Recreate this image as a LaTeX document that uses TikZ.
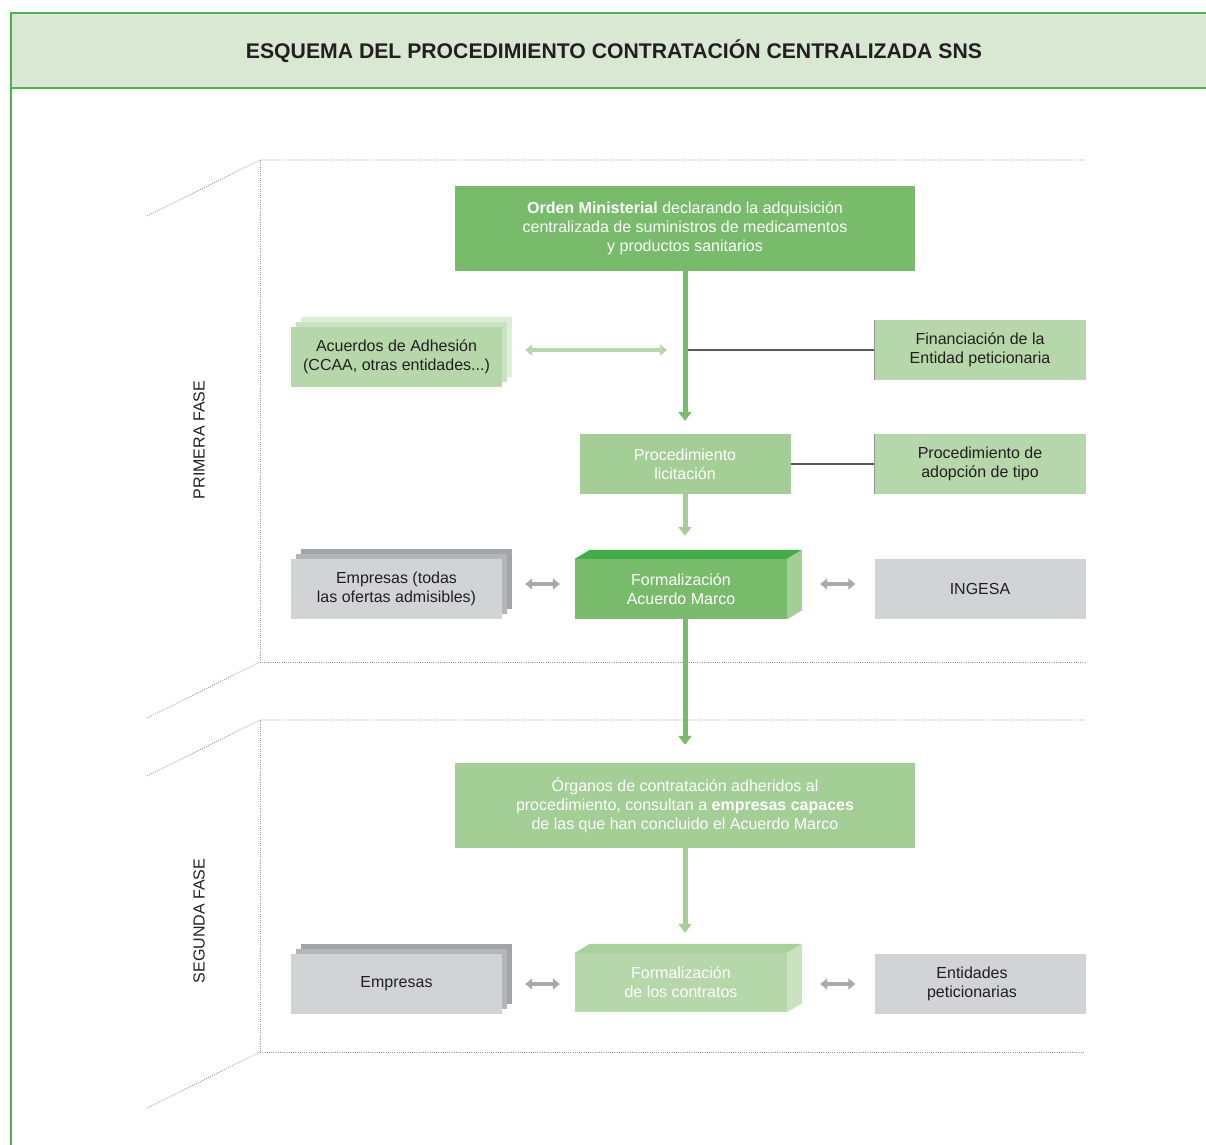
\documentclass[tikz,border=0pt]{standalone}
\usepackage{fontspec}
\setmainfont{Liberation Sans}
\usetikzlibrary{positioning,arrows.meta}

\definecolor{titlebg}{HTML}{D8E8D2}
\definecolor{frameline}{HTML}{4DB548}
\definecolor{darkgreen}{HTML}{77BB6B}
\definecolor{topgreen}{HTML}{3FAE49}
\definecolor{midgreen}{HTML}{A3CE95}
\definecolor{lightgreen}{HTML}{B5D7A9}
\definecolor{palegreen}{HTML}{C9E2BF}
\definecolor{palergreen}{HTML}{DDEDD7}
\definecolor{topgreen2}{HTML}{A9D19C}
\definecolor{boxgray}{HTML}{D1D3D4}
\definecolor{backgray}{HTML}{B3B5B8}
\definecolor{backgray2}{HTML}{A2A4A7}
\definecolor{arrowgray}{HTML}{A7A9AC}
\definecolor{linegray}{HTML}{58595B}
\definecolor{guidegray}{HTML}{939598}
\definecolor{txt}{HTML}{231F20}

\begin{document}
\begin{tikzpicture}[x=1pt,y=1pt,
    every node/.style={font=\fontsize{16}{19}\selectfont, align=center, inner sep=0pt},
    box/.style={minimum width=211pt, minimum height=60pt, text=txt},
    widebox/.style={minimum width=460pt, minimum height=85pt, fill=#1, text=white},
    guide/.style={guidegray, line width=0.8pt, dash pattern=on 1pt off 1.2pt},
    flow/.style={line width=5pt, #1, -{Triangle[width=13pt,length=9pt]}},
    dbl/.style={line width=4pt, #1, {Triangle[width=11pt,length=7pt]}-{Triangle[width=11pt,length=7pt]}},
    link/.style={linegray, line width=1.5pt}]
                \useasboundingbox (0,0) rectangle (1206,-1144);

                % title bar
                \fill[titlebg] (11,-13) rectangle (1212,-88);
                \draw[frameline, line width=1.3pt] (1212,-13) -- (11,-13) -- (11,-1150);
                \draw[frameline, line width=1.3pt] (11,-88) -- (1212,-88);
                \node[font=\fontsize{21.2}{25}\selectfont\bfseries, text=txt] (title) at (614,-51)
                    {ESQUEMA DEL PROCEDIMIENTO CONTRATACIÓN CENTRALIZADA SNS};

                % phase frames
                \draw[guide] (147,-216) -- (260,-160) -- (1085,-160);
                \draw[guide] (260,-160) -- (260,-662) -- (1085,-662);
                \draw[guide] (147,-718) -- (260,-662);
                \draw[guide] (147,-776) -- (260,-720) -- (1085,-720);
                \draw[guide] (260,-720) -- (260,-1052) -- (1085,-1052);
                \draw[guide] (147,-1108) -- (260,-1052);

                \node[rotate=90, text=txt] (fase1) at (199,-440) {PRIMERA FASE};
                \node[rotate=90, text=txt] (fase2) at (199,-921) {SEGUNDA FASE};

                % primera fase
                \node[widebox=darkgreen] (orden) at (685,-228.5)
                    {\textbf{Orden Ministerial} declarando la adquisición\\centralizada de suministros de medicamentos\\y productos sanitarios};

                \node[box, fill=palergreen] (acu3) at (406.5,-347) {};
                \node[box, fill=palegreen]  (acu2) at (401.5,-352) {};
                \node[box, fill=lightgreen] (acu)  at (396.5,-357) {Acuerdos de Adhesión\\(CCAA, otras entidades...)};

                \node[box, fill=lightgreen] (fin)  at (980,-350) {Financiación de la\\Entidad peticionaria};
                \node[box, fill=midgreen, text=white] (lic) at (685,-464) {Procedimiento\\licitación};
                \node[box, fill=lightgreen] (tipo) at (980,-464) {Procedimiento de\\adopción de tipo};
                \draw[guidegray, line width=1pt] (fin.north west) -- (fin.south west);
                \draw[guidegray, line width=1pt] (tipo.north west) -- (tipo.south west);

                \node[box, fill=backgray2] (emp3) at (406.5,-579) {};
                \node[box, fill=backgray]  (emp2) at (401.5,-584) {};
                \node[box, fill=boxgray]   (emp)  at (396.5,-589) {Empresas (todas\\las ofertas admisibles)};

                \node[box, minimum width=212pt, fill=darkgreen, text=white] (marco) at (681,-589) {Formalización\\Acuerdo Marco};
                \fill[topgreen] (marco.north west) -- ++(15,9) -- ([shift={(15,9)}]marco.north east) -- (marco.north east) -- cycle;
                \fill[midgreen] (marco.north east) -- ++(15,9) -- ([shift={(15,9)}]marco.south east) -- (marco.south east) -- cycle;

                \node[box, fill=boxgray] (ingesa) at (980,-589) {INGESA};

                \coordinate (j1) at (685,-350);
                \draw[link] (j1) -- (fin);
                \draw[link] (lic) -- (tipo);
                \draw[flow=darkgreen, shorten >=13pt] (orden) -- (lic);
                \draw[dbl=lightgreen, shorten <=13pt, shorten >=18pt] (acu3.east |- j1) -- (j1);
                \draw[flow=midgreen, shorten >=23pt] (lic) -- (lic.south |- marco.north);
                \draw[dbl=arrowgray, shorten <=18pt, shorten >=15pt] (emp2.east) -- (marco.west |- emp2.east);
                \draw[dbl=arrowgray, shorten <=33pt, shorten >=19pt] (marco.east |- emp2.east) -- (ingesa.west |- emp2.east);

                % segunda fase
                \node[widebox=midgreen] (org) at (685,-805.5)
                    {Órganos de contratación adheridos al\\procedimiento, consultan a \textbf{empresas capaces}\\de las que han concluido el Acuerdo Marco};
                \draw[flow=darkgreen, shorten >=18pt] (lic.south |- marco.south) -- (org);

                \node[box, fill=backgray2] (emps3) at (406.5,-974) {};
                \node[box, fill=backgray]  (emps2) at (401.5,-979) {};
                \node[box, fill=boxgray]   (emps)  at (396.5,-984) {Empresas};

                \node[box, minimum width=212pt, minimum height=59pt, fill=lightgreen, text=white] (contr) at (681,-982.5) {Formalización\\de los contratos};
                \fill[topgreen2] (contr.north west) -- ++(15,9) -- ([shift={(15,9)}]contr.north east) -- (contr.north east) -- cycle;
                \fill[palegreen] (contr.north east) -- ++(15,9) -- ([shift={(15,9)}]contr.south east) -- (contr.south east) -- cycle;

                \node[box, fill=boxgray] (ent) at (980,-984) {\hspace*{-16pt}Entidades\\\hspace*{-16pt}peticionarias};

                \draw[flow=midgreen, shorten >=20pt] (org) -- (org.south |- contr.north);
                \draw[dbl=arrowgray, shorten <=23pt, shorten >=15pt] (emps) -- (contr.west |- emps.east);
                \draw[dbl=arrowgray, shorten <=33pt, shorten >=19pt] (contr.east |- emps.east) -- (ent);
            \end{tikzpicture}
\end{document}
